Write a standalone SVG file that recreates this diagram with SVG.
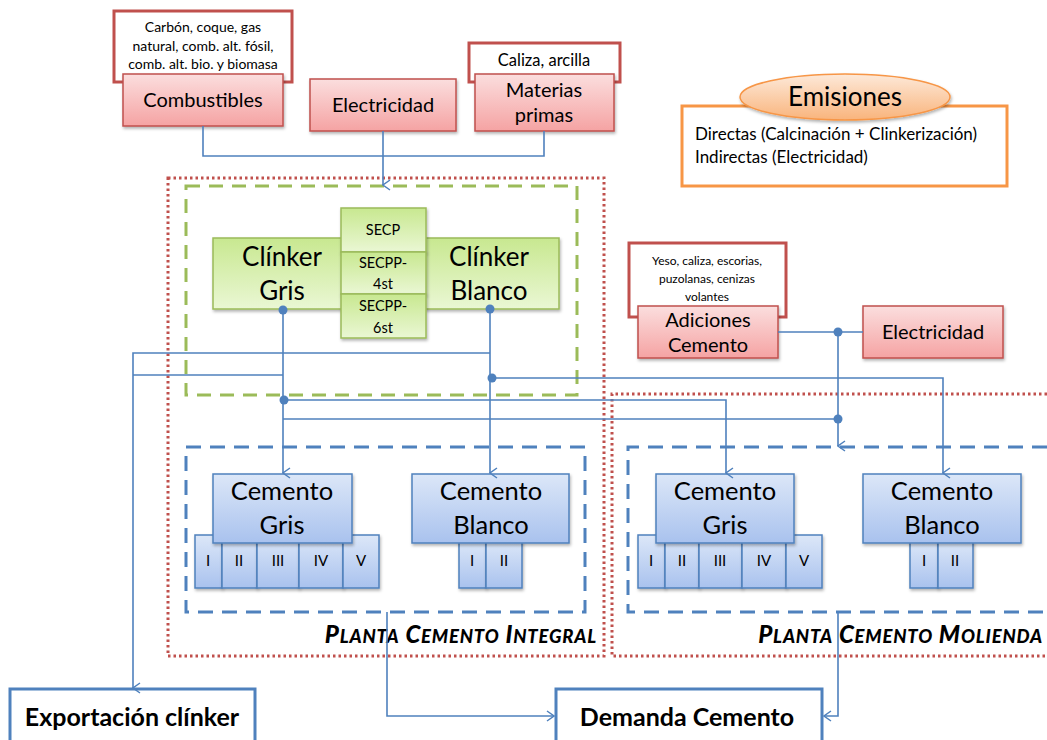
<svg xmlns="http://www.w3.org/2000/svg" width="1047" height="740" viewBox="0 0 1047 740">
<defs>
<linearGradient id="gPink" x1="0" y1="0" x2="0" y2="1"><stop offset="0" stop-color="#fbdede"/><stop offset="1" stop-color="#f5a3a3"/></linearGradient>
<linearGradient id="gGreen" x1="0" y1="0" x2="0" y2="1"><stop offset="0" stop-color="#c8e890"/><stop offset="1" stop-color="#eaf7d4"/></linearGradient>
<linearGradient id="gBlue" x1="0" y1="0" x2="0" y2="1"><stop offset="0" stop-color="#dce7f8"/><stop offset="1" stop-color="#a9c2ee"/></linearGradient>
<linearGradient id="gOrange" x1="0" y1="0" x2="0" y2="1"><stop offset="0" stop-color="#fde9d9"/><stop offset="1" stop-color="#f9b47c"/></linearGradient>
<filter id="sh" x="-10%" y="-10%" width="130%" height="140%"><feDropShadow dx="1" dy="2" stdDeviation="1.5" flood-color="#000" flood-opacity="0.3"/></filter>
<marker id="arr" viewBox="0 0 12 12" refX="6" refY="11" markerWidth="12" markerHeight="12" markerUnits="userSpaceOnUse" orient="auto-start-reverse">
<path d="M1,4 L6,11 L11,4" fill="none" stroke="#4f81bd" stroke-width="1.5"/>
</marker>
<marker id="arrR" viewBox="0 0 12 12" refX="11" refY="6" markerWidth="12" markerHeight="12" markerUnits="userSpaceOnUse" orient="0">
<path d="M4,1 L11,6 L4,11" fill="none" stroke="#4f81bd" stroke-width="1.5"/>
</marker>
<marker id="arrL" viewBox="0 0 12 12" refX="1" refY="6" markerWidth="12" markerHeight="12" markerUnits="userSpaceOnUse" orient="0">
<path d="M8,1 L1,6 L8,11" fill="none" stroke="#4f81bd" stroke-width="1.5"/>
</marker>
</defs>
<style>
text{font-family:Lato,"Open Sans","Liberation Sans",sans-serif;fill:#000;text-anchor:middle}
.lbl{fill:#fff;stroke:#c0504d;stroke-width:3}
.pink{fill:url(#gPink);stroke:#c0504d;stroke-width:1.5;filter:url(#sh)}
.green{fill:url(#gGreen);stroke:#9bbb59;stroke-width:1.5;filter:url(#sh)}
.blue{fill:url(#gBlue);stroke:#4f81bd;stroke-width:1.5;filter:url(#sh)}
.con{fill:none;stroke:#4f81bd;stroke-width:1.6}
.dot{fill:#4f81bd}
.reddot{fill:none;stroke:#c0504d;stroke-width:3;stroke-dasharray:2.5 3}
.greendash{fill:none;stroke:#9bbb59;stroke-width:3;stroke-dasharray:14 9}
.bluedash{fill:none;stroke:#4f81bd;stroke-width:3;stroke-dasharray:15 9}
.s{font-size:14px}
.sec{font-size:14.5px}
.m{font-size:20px}
.c{font-size:25.5px}
.num{font-size:15px}
.plant{font-size:24px;font-weight:900;font-style:italic;text-anchor:end;letter-spacing:0.8px}
.sc{font-size:18.5px}
.em{font-size:17px;text-anchor:start}
.out{fill:#fff;stroke:#4f81bd;stroke-width:3}
.big{font-size:25px;font-weight:bold}
</style>

<g id="containers">
<rect x="168" y="178" width="436" height="478" class="reddot"/>
<path d="M1047,394 L612,394 L612,656 L1047,656" class="reddot"/>
<rect x="186" y="186" width="391" height="209" class="greendash"/>
<rect x="186" y="447" width="399" height="165" class="bluedash"/>
<path d="M1047,447 L628,447 L628,612 L1047,612" class="bluedash"/>
<text x="597" y="643" class="plant">P<tspan class="sc">LANTA</tspan> C<tspan class="sc">EMENTO</tspan> I<tspan class="sc">NTEGRAL</tspan></text>
<text x="1043" y="643" class="plant">P<tspan class="sc">LANTA</tspan> C<tspan class="sc">EMENTO</tspan> M<tspan class="sc">OLIENDA</tspan></text>
</g>

<g id="combustibles">
<rect x="114" y="11" width="178" height="71" class="lbl"/>
<text x="203" y="32" class="s">Carbón, coque, gas</text>
<text x="203" y="51" class="s">natural, comb. alt. fósil,</text>
<text x="203" y="69" class="s">comb. alt. bio. y biomasa</text>
<rect x="123" y="74" width="160" height="52" class="pink"/>
<text x="203" y="107" class="m">Combustibles</text>
</g>

<g id="electricidad1">
<rect x="310" y="79" width="146" height="52" class="pink"/>
<text x="383" y="112" class="m">Electricidad</text>
</g>

<g id="materias">
<rect x="469" y="43" width="151" height="39" class="lbl"/>
<text x="544" y="66" font-size="16.5">Caliza, arcilla</text>
<rect x="475" y="74" width="139" height="57" class="pink"/>
<text x="544" y="97" class="m">Materias</text>
<text x="544" y="122" class="m">primas</text>
</g>

<g id="emisiones">
<rect x="682" y="106" width="325" height="80" fill="#fff" stroke="#f79646" stroke-width="3"/>
<ellipse cx="845" cy="97" rx="105" ry="23" fill="url(#gOrange)" stroke="#f79646" stroke-width="1.5" filter="url(#sh)"/>
<text x="845" y="106" font-size="26">Emisiones</text>
<text x="695" y="140" class="em">Directas (Calcinación + Clinkerización)</text>
<text x="695" y="163" class="em">Indirectas (Electricidad)</text>
</g>

<g id="clinker-gris">
<rect x="213" y="238" width="130" height="71" class="green"/>
<text x="282" y="266" font-size="26">Clínker</text>
<text x="282" y="300" font-size="26">Gris</text>
</g>
<g id="clinker-blanco">
<rect x="425" y="238" width="134" height="71" class="green"/>
<text x="489" y="266" font-size="26">Clínker</text>
<text x="489" y="300" font-size="26">Blanco</text>
</g>
<g id="secp">
<rect x="341" y="208" width="85" height="44" class="green"/>
<text x="383" y="235" class="sec">SECP</text>
<rect x="341" y="252" width="85" height="42" class="green"/>
<text x="383" y="268" class="sec">SECPP-</text>
<text x="383" y="289" class="sec">4st</text>
<rect x="341" y="294" width="85" height="44" class="green"/>
<text x="383" y="311" class="sec">SECPP-</text>
<text x="383" y="333" class="sec">6st</text>
</g>

<g id="adiciones">
<rect x="629" y="243" width="157" height="74" class="lbl"/>
<text x="707" y="265" font-size="12">Yeso, caliza, escorias,</text>
<text x="707" y="283" font-size="12">puzolanas, cenizas</text>
<text x="707" y="301" font-size="12">volantes</text>
<rect x="638" y="306" width="140" height="52" class="pink"/>
<text x="708" y="327" class="m">Adiciones</text>
<text x="708" y="352" class="m">Cemento</text>
</g>

<g id="electricidad2">
<rect x="863" y="306" width="140" height="52" class="pink"/>
<text x="933" y="339" class="m">Electricidad</text>
</g>

<g id="cemento-gris-integral">
<rect x="195" y="535" width="27" height="53" class="blue"/>
<rect x="222" y="535" width="35" height="53" class="blue"/>
<rect x="257" y="535" width="42" height="53" class="blue"/>
<rect x="299" y="535" width="44" height="53" class="blue"/>
<rect x="343" y="535" width="36" height="53" class="blue"/>
<text x="208" y="566" class="num">I</text>
<text x="239" y="566" class="num">II</text>
<text x="278" y="566" class="num">III</text>
<text x="321" y="566" class="num">IV</text>
<text x="361" y="566" class="num">V</text>
<rect x="213" y="474" width="139" height="69" class="blue"/>
<text x="282" y="500" class="c">Cemento</text>
<text x="282" y="534" class="c">Gris</text>
</g>

<g id="cemento-blanco-integral">
<rect x="459" y="541" width="27" height="47" class="blue"/>
<rect x="486" y="541" width="36" height="47" class="blue"/>
<text x="472" y="566" class="num">I</text>
<text x="504" y="566" class="num">II</text>
<rect x="412" y="474" width="157" height="69" class="blue"/>
<text x="491" y="500" class="c">Cemento</text>
<text x="491" y="534" class="c">Blanco</text>
</g>

<g id="cemento-gris-molienda">
<rect x="638" y="535" width="27" height="53" class="blue"/>
<rect x="665" y="535" width="34" height="53" class="blue"/>
<rect x="699" y="535" width="43" height="53" class="blue"/>
<rect x="742" y="535" width="44" height="53" class="blue"/>
<rect x="786" y="535" width="36" height="53" class="blue"/>
<text x="651" y="566" class="num">I</text>
<text x="682" y="566" class="num">II</text>
<text x="720" y="566" class="num">III</text>
<text x="764" y="566" class="num">IV</text>
<text x="804" y="566" class="num">V</text>
<rect x="656" y="474" width="138" height="69" class="blue"/>
<text x="725" y="500" class="c">Cemento</text>
<text x="725" y="534" class="c">Gris</text>
</g>

<g id="cemento-blanco-molienda">
<rect x="910" y="541" width="28" height="47" class="blue"/>
<rect x="938" y="541" width="35" height="47" class="blue"/>
<text x="924" y="566" class="num">I</text>
<text x="955" y="566" class="num">II</text>
<rect x="863" y="474" width="158" height="69" class="blue"/>
<text x="942" y="500" class="c">Cemento</text>
<text x="942" y="534" class="c">Blanco</text>
</g>

<g id="exportacion">
<rect x="10" y="689" width="245" height="70" class="out"/>
<text x="132" y="726" class="big">Exportación clínker</text>
</g>
<g id="demanda">
<rect x="556" y="689" width="266" height="70" class="out"/>
<text x="687" y="726" class="big">Demanda Cemento</text>
</g>

<g id="connectors">
<path d="M203,126 V156 H544 V131" class="con"/>
<path d="M383,131 V185" class="con" marker-end="url(#arr)"/>
<path d="M283,309 V473" class="con" marker-end="url(#arr)"/>
<path d="M490,309 V473" class="con" marker-end="url(#arr)"/>
<path d="M490,353 H133 V688" class="con" marker-end="url(#arr)"/>
<path d="M283,375 H133" class="con"/>
<path d="M491,378 H943 V473" class="con" marker-end="url(#arr)"/>
<path d="M284,400 H726 V473" class="con" marker-end="url(#arr)"/>
<path d="M283,419 H838" class="con"/>
<path d="M778,332 H863" class="con"/>
<path d="M838,332 V446" class="con" marker-end="url(#arr)"/>
<path d="M387,612 V716 H554" class="con" marker-end="url(#arrR)"/>
<path d="M838,612 V716 H824" class="con" marker-end="url(#arrL)"/>
<circle cx="283" cy="310" r="4.5" class="dot"/>
<circle cx="490" cy="309" r="4.5" class="dot"/>
<circle cx="492" cy="378" r="4.5" class="dot"/>
<circle cx="284" cy="400" r="4.5" class="dot"/>
<circle cx="838" cy="332" r="4.5" class="dot"/>
<circle cx="838" cy="419" r="4.5" class="dot"/>
</g>
</svg>
